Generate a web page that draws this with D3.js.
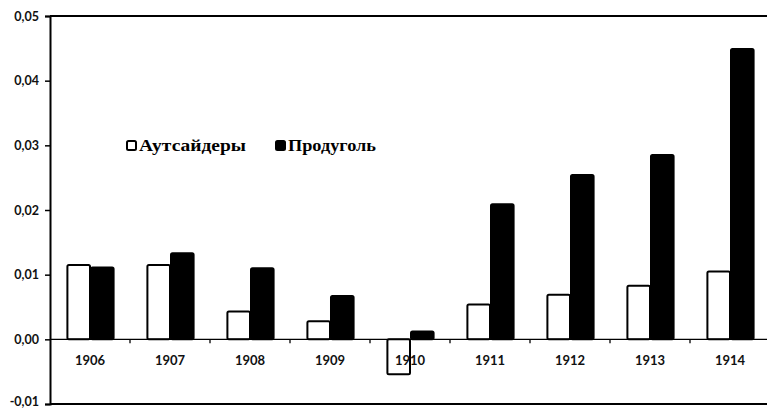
<!DOCTYPE html>
<html>
<head>
<meta charset="utf-8">
<script src="https://cdn.jsdelivr.net/npm/d3@7"></script>
<style>
  body { margin: 0; background: #fff; }
</style>
</head>
<body>
<div id="chart"></div>
<script>
// Данные
const years = ["1906", "1907", "1908", "1909", "1910", "1911", "1912", "1913", "1914"];
const outsiders = [0.0115, 0.0115, 0.0043, 0.0028, -0.0054, 0.0054, 0.0069, 0.0083, 0.0105];
const produgol = [0.0111, 0.0133, 0.0110, 0.0067, 0.0012, 0.0209, 0.0254, 0.0285, 0.0449];
const yTicks = [-0.01, 0, 0.01, 0.02, 0.03, 0.04, 0.05];
const seriesNames = ["Аутсайдеры", "Продуголь"];

const W = 767, H = 408;
const plotLeft = 50, plotRight = 770, plotTop = 16, plotBottom = 404;

const svg = d3.select("#chart").append("svg")
  .attr("width", W).attr("height", H);

const x0 = d3.scaleBand().domain(years).range([plotLeft, plotRight])
  .paddingInner(0.41).paddingOuter(0.205);
const x1 = d3.scaleBand().domain(seriesNames).range([0, x0.bandwidth()]);
const y = d3.scaleLinear().domain([-0.01, 0.05]).range([plotBottom, plotTop]);

const fmt = d => d3.format(".2f")(d).replace(".", ",").replace("−", "-");

// Y-ось
const yAxis = svg.append("g")
  .attr("transform", `translate(${plotLeft},0)`)
  .call(d3.axisLeft(y).tickValues(yTicks).tickSize(5).tickPadding(6).tickFormat(fmt));
yAxis.select(".domain").attr("stroke-width", 2);
yAxis.selectAll(".tick line").attr("stroke-width", 1.5);
yAxis.selectAll("text")
  .style("font-family", "Lato, 'DejaVu Sans', sans-serif")
  .style("font-size", "12.5px").style("font-weight", "bold").attr("fill", "#111");
// нижняя подпись чуть приподнята, чтобы не обрезалась
yAxis.selectAll(".tick").filter(d => d === -0.01).select("text").attr("dy", "0.1em");

// Рамка сверху и снизу
svg.append("line").attr("x1", plotLeft).attr("x2", W).attr("y1", y(0.05)).attr("y2", y(0.05))
  .attr("stroke", "#000").attr("stroke-width", 2);
svg.append("line").attr("x1", plotLeft).attr("x2", W).attr("y1", y(-0.01)).attr("y2", y(-0.01))
  .attr("stroke", "#000").attr("stroke-width", 2);

// Столбцы
const groups = svg.append("g").selectAll("g")
  .data(years.map((yr, i) => ({ yr, vals: [outsiders[i], produgol[i]] })))
  .join("g")
  .attr("transform", d => `translate(${x0(d.yr)},0)`);

groups.selectAll("rect")
  .data(d => d.vals.map((v, k) => ({ v, k })))
  .join("rect")
  .attr("x", d => x1(seriesNames[d.k]) + 1)
  .attr("width", x1.bandwidth() - 1)
  .attr("y", d => y(Math.max(0, d.v)))
  .attr("height", d => Math.abs(y(d.v) - y(0)))
  .attr("rx", 1.5)
  .attr("fill", d => d.k === 0 ? "#fff" : "#000")
  .attr("stroke", "#000")
  .attr("stroke-width", 2);

// Нулевая линия и подписи годов
const xAxis = svg.append("g")
  .attr("transform", `translate(0,${y(0)})`)
  .call(d3.axisBottom(x0).tickSize(0).tickPadding(16));
xAxis.select(".domain").remove();
xAxis.selectAll("text")
  .style("font-family", "Lato, 'DejaVu Sans', sans-serif")
  .style("font-size", "13px").style("font-weight", "bold").attr("fill", "#111");

svg.append("line").attr("x1", plotLeft).attr("x2", W).attr("y1", y(0)).attr("y2", y(0))
  .attr("stroke", "#000").attr("stroke-width", 1.3);

// Засечки между категориями
svg.append("g").selectAll("line")
  .data(years.slice(1))
  .join("line")
  .attr("x1", d => x0(d) - x0.step() * x0.paddingInner() / 2)
  .attr("x2", d => x0(d) - x0.step() * x0.paddingInner() / 2)
  .attr("y1", y(0)).attr("y2", y(0) + 4)
  .attr("stroke", "#000").attr("stroke-width", 1.3);

// Легенда
const legend = svg.append("g");
const legendPos = [[126, 140], [275, 140]];
const legendWidths = [107, 88];
seriesNames.forEach((name, k) => {
  const [lx, ly] = legendPos[k];
  legend.append("rect")
    .attr("x", lx + 1).attr("y", ly + 1).attr("width", 9).attr("height", 9).attr("rx", 1.5)
    .attr("fill", k === 0 ? "#fff" : "#000").attr("stroke", "#000").attr("stroke-width", 2);
  legend.append("text")
    .attr("x", lx + 13).attr("y", ly + 11)
    .attr("textLength", legendWidths[k]).attr("lengthAdjust", "spacingAndGlyphs")
    .style("font-family", "'Liberation Serif', 'Times New Roman', serif")
    .style("font-size", "16px").style("font-weight", "bold")
    .text(name);
});
</script>
</body>
</html>
